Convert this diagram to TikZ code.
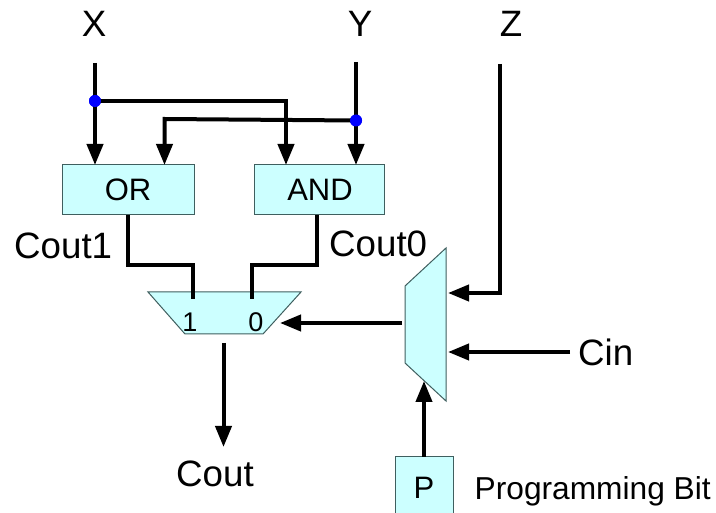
\documentclass[tikz,border=0pt]{standalone}
\usepackage{fontspec}
\setmainfont{Liberation Sans}
\usetikzlibrary{arrows.meta}
\definecolor{boxfill}{HTML}{CCFFFF}
\definecolor{boxline}{HTML}{3F5F5F}
\tikzset{
  wire/.style={line width=4pt,black,line join=miter},
  arrowwire/.style={wire,-{Triangle[length=21pt,width=16pt]}},
  block/.style={draw=boxline,fill=boxfill,line width=1pt,rectangle,inner sep=0pt},
  blocktext/.style={font=\fontsize{31}{31}\selectfont,inner sep=0pt,anchor=base},
  muxshape/.style={draw=boxline,fill=boxfill,line width=1pt,line join=miter},
  big/.style={font=\fontsize{36.7}{37}\selectfont,inner sep=0pt,anchor=base},
  midtext/.style={font=\fontsize{31.7}{32}\selectfont,inner sep=0pt,anchor=base west},
  small/.style={font=\fontsize{27}{27}\selectfont,inner sep=0pt,anchor=base},
  joint/.style={circle,fill=blue,draw=none,minimum size=12pt,inner sep=0pt}
}
\begin{document}
\begin{tikzpicture}[x=1pt,y=-1pt]
\useasboundingbox (0,0) rectangle (716,513);
% boxes
\node[block,minimum width=132pt,minimum height=50pt] (or) at (128,190) {};
\node[block,minimum width=130pt,minimum height=50pt] (and) at (319,190) {};
\node[block,minimum width=58pt,minimum height=56pt] (p) at (424,485) {};
\node[blocktext] (ortext) at (128,201) {OR};
\node[blocktext] (andtext) at (320,201) {AND};
\node[blocktext] (ptext) at (424,499) {P};
% muxes
\draw[muxshape] (148,292) -- (301,292) -- (263,334) -- (185,334) -- cycle;
\draw[muxshape] (405,286) -- (446,248) -- (446,401) -- (405,363) -- cycle;
% free ends
\coordinate (xs) at (95,63);
\coordinate (ys) at (356,62);
\coordinate (zs) at (500,64);
\coordinate (zt) at (448,293);
\coordinate (cs) at (570,352);
\coordinate (ct) at (448,352);
\coordinate (m1) at (193,299);
\coordinate (m0) at (252,299);
\coordinate (ms) at (402,323);
\coordinate (mt) at (280,323);
\coordinate (os) at (223.5,343);
\coordinate (ot) at (223.5,447);
\coordinate (pt) at (424,381);
\coordinate (orin) at (164.5,165);
\coordinate (andin) at (286,165);
\coordinate (orx) at (95,165);
\coordinate (andy) at (356,165);
\coordinate (orout) at (128,215);
\coordinate (andout) at (317,215);
\coordinate (ptop) at (424,457);
\node[joint] (jx) at (95,101) {};
\node[joint] (jy) at (356,120.5) {};
% wires
\draw[arrowwire] (xs) -- (orx);
\draw[arrowwire] (ys) -- (andy);
\draw[arrowwire] (jx.center) -- (286,101) -- (andin);
\draw[arrowwire] (jy.center) -- (164.5,119) -- (orin);
\node[joint] at (jx) {};
\node[joint] at (jy) {};
\draw[wire] (orout) -- (128,265) -- (193,265) -- (m1);
\draw[wire] (andout) -- (317,265) -- (252,265) -- (m0);
\draw[arrowwire] (os) -- (ot);
\draw[arrowwire] (ms) -- (mt);
\draw[arrowwire] (zs) -- (500,293) -- (zt);
\draw[arrowwire] (cs) -- (ct);
\draw[arrowwire] (ptop) -- (pt);
% labels
\node[big] (lx) at (94,37) {X};
\node[big] (ly) at (360,37) {Y};
\node[big] (lz) at (511,37) {Z};
\node[big,anchor=base west] (lc1) at (14,259) {Cout1};
\node[big,anchor=base west] (lc0) at (329,257) {Cout0};
\node[big,anchor=base west] (lcin) at (578,366) {Cin};
\node[big] (lcout) at (215,486) {Cout};
\node[midtext] (lpb) at (474.5,500) {Programming Bit};
\node[small] (l1) at (190,332) {1};
\node[small] (l0) at (256,332) {0};
\end{tikzpicture}
\end{document}
